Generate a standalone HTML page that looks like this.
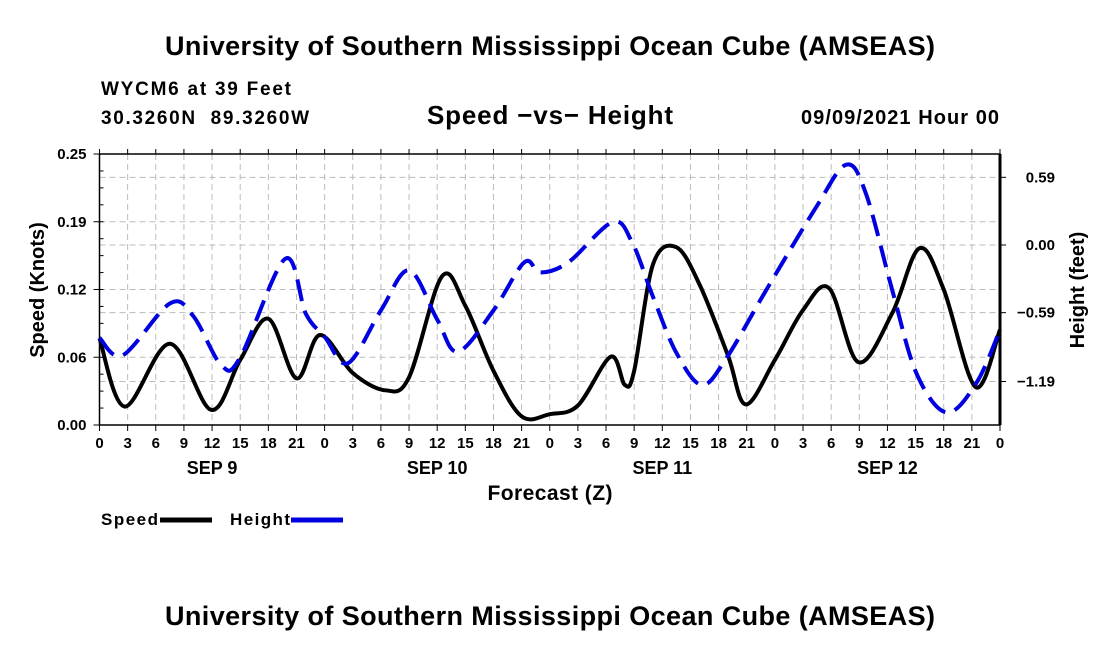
<!DOCTYPE html>
<html><head><meta charset="utf-8"><style>
body{margin:0;background:#fff;}
svg{display:block;font-family:"Liberation Sans",Arial,sans-serif;font-weight:bold;}
</style></head><body>
<svg id="chart" width="1100" height="650" viewBox="0 0 1100 650">
<text x="550" y="55" text-anchor="middle" font-size="27" textLength="770">University of Southern Mississippi Ocean Cube (AMSEAS)</text>
<text x="101" y="95" font-size="19" textLength="190">WYCM6 at 39 Feet</text>
<text x="101" y="124" font-size="19" textLength="208" xml:space="preserve">30.3260N  89.3260W</text>
<text x="550" y="124" text-anchor="middle" font-size="26" textLength="246">Speed −vs− Height</text>
<text x="999" y="124" text-anchor="end" font-size="20" textLength="198">09/09/2021 Hour 00</text>
<g id="grid"></g><g id="axes"></g><g id="series"></g>
<text transform="translate(44,290) rotate(-90)" text-anchor="middle" font-size="20">Speed (Knots)</text>
<text transform="translate(1084,290) rotate(-90)" text-anchor="middle" font-size="20">Height (feet)</text>
<text x="550" y="500" text-anchor="middle" font-size="21" textLength="125">Forecast (Z)</text>
<g>
<text x="101" y="525" font-size="17" textLength="57">Speed</text>
<line x1="160" y1="520" x2="212" y2="520" stroke="#000" stroke-width="5"/>
<text x="230" y="525" font-size="17" textLength="60">Height</text>
<line x1="291" y1="520" x2="343" y2="520" stroke="#0000e0" stroke-width="5"/>
</g>
<text x="550" y="625" text-anchor="middle" font-size="27" textLength="770">University of Southern Mississippi Ocean Cube (AMSEAS)</text>
</svg>
<script>
const speedHours=[0,2.7,7.5,11.9,15,18,21,23.5,27,30.5,33,36.5,39,42,45,48,51,54.5,56,57,59,61.5,64,67,68.9,72,75,77.8,80.9,84.5,87.4,90,93.4,96];
const speedValues=[0.08,0.017,0.075,0.014,0.06,0.098,0.043,0.083,0.048,0.032,0.044,0.137,0.11,0.05,0.008,0.01,0.018,0.063,0.037,0.05,0.148,0.164,0.129,0.064,0.019,0.06,0.106,0.126,0.058,0.103,0.163,0.125,0.035,0.088];
const heightHours=[0,2.5,7.5,10,13,15,19.8,22,24,26.5,30,33,36,38.2,42,45.3,47,50,54.7,56.8,59,61.5,64.2,66.8,71.1,76.4,79.6,81.7,84.5,87.1,90.3,93.5,96];
const heightValues=[-0.81,-0.96,-0.51,-0.62,-1.05,-0.98,-0.12,-0.6,-0.8,-1.03,-0.57,-0.22,-0.65,-0.93,-0.57,-0.15,-0.24,-0.15,0.2,0.02,-0.45,-0.94,-1.22,-0.99,-0.39,0.33,0.7,0.45,-0.39,-1.12,-1.46,-1.2,-0.74];
const leftTicks=[0,0.0625,0.125,0.1875,0.25];
const leftTickLabels=["0.00","0.06","0.12","0.19","0.25"];
const rightTicks=[0.59,0,-0.59,-1.19];
const rightTickLabels=["0.59","0.00","\u22120.59","\u22121.19"];
const hourLabels=[0,3,6,9,12,15,18,21];
const dayLabels=["SEP 9","SEP 10","SEP 11","SEP 12"];
const X0=99.5,X1=1000,Y0=425,Y1=154;
const xs=h=>X0+(X1-X0)*h/96;
const yL=v=>Y0-(Y0-Y1)*v/0.25;
const yR=v=>245-v*114.7;
const NS="http://www.w3.org/2000/svg";
function mk(p,t,a){const e=document.createElementNS(NS,t);for(const k in a)e.setAttribute(k,a[k]);p.appendChild(e);return e;}
const grid=document.getElementById('grid'),axes=document.getElementById('axes'),ser=document.getElementById('series');
for(let i=1;i<32;i++){const l=mk(grid,'line',{x1:xs(i*3),x2:xs(i*3),y1:Y1,y2:Y0,stroke:'#bbb','stroke-dasharray':'6,4'});

}
leftTicks.slice(1,4).forEach(v=>{const l=mk(grid,'line',{x1:X0,x2:X1,y1:yL(v),y2:yL(v),stroke:'#bbb','stroke-dasharray':'6,4'});

});
rightTicks.forEach(v=>{const l=mk(grid,'line',{x1:X0,x2:X1,y1:yR(v),y2:yR(v),stroke:'#bbb','stroke-dasharray':'6,4'});

});
const box=mk(axes,'rect',{x:X0,y:Y1,width:X1-X0,height:Y0-Y1,fill:'none',stroke:'#000','stroke-width':1.5});


mk(axes,'line',{x1:X1,x2:X1,y1:Y1,y2:Y0,stroke:'#000','stroke-width':3});
leftTicks.forEach((v,i)=>{mk(axes,'line',{x1:X0-6,x2:X0,y1:yL(v),y2:yL(v),stroke:'#000'});
const t=mk(axes,'text',{x:X0-13,y:yL(v)+5,'text-anchor':'end','font-size':15});t.textContent=leftTickLabels[i];

});
for(let v=0;v<=0.25;v+=0.25/16){mk(axes,'line',{x1:X0,x2:X0+4,y1:yL(v),y2:yL(v),stroke:'#000'});}
rightTicks.forEach((v,i)=>{mk(axes,'line',{x1:X1,x2:X1+6,y1:yR(v),y2:yR(v),stroke:'#000'});
const t=mk(axes,'text',{x:1055,y:yR(v)+5,'text-anchor':'end','font-size':15});t.textContent=rightTickLabels[i];

});
for(let i=0;i<=32;i++){const h=i*3;mk(axes,'line',{x1:xs(h),x2:xs(h),y1:Y0,y2:Y0+6,stroke:'#000'});mk(axes,'line',{x1:xs(h),x2:xs(h),y1:Y1,y2:Y1-5,stroke:'#000'});
const t=mk(axes,'text',{x:xs(h),y:448,'text-anchor':'middle','font-size':15});t.textContent=hourLabels[i%8];

}
dayLabels.forEach((d,i)=>{const t=mk(axes,'text',{x:xs(i*24+12),y:474,'text-anchor':'middle','font-size':18});t.textContent=d;

});
function path(hs,vs,yf){const p=hs.map((h,i)=>[xs(h),yf(vs[i])]);let d='M'+p[0][0]+','+p[0][1];
for(let i=0;i<p.length-1;i++){const a=p[Math.max(0,i-1)],b=p[i],c=p[i+1],e=p[Math.min(p.length-1,i+2)];
d+=' C'+(b[0]+(c[0]-a[0])/6)+','+(b[1]+(c[1]-a[1])/6)+' '+(c[0]-(e[0]-b[0])/6)+','+(c[1]-(e[1]-b[1])/6)+' '+c[0]+','+c[1];}return d;}
const sp=mk(ser,'path',{d:path(speedHours,speedValues,yL),fill:'none',stroke:'#000','stroke-width':4});


const hp=mk(ser,'path',{d:path(heightHours,heightValues,yR),fill:'none',stroke:'#0000e0','stroke-width':4,'stroke-dasharray':'22,10'});


</script>
</body></html>
